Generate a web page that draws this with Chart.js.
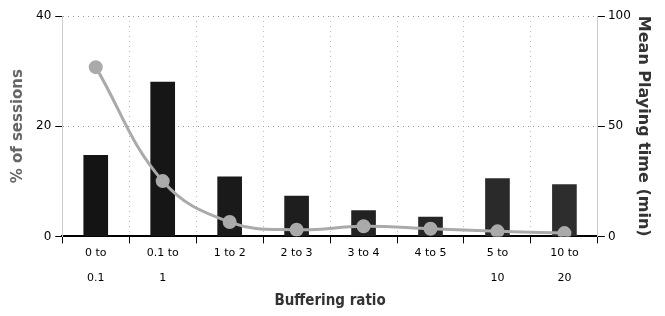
<!DOCTYPE html>
<html>
<head>
<meta charset="utf-8">
<script src="https://cdn.jsdelivr.net/npm/chart.js@4"></script>
<style>
  html, body { margin: 0; padding: 0; background: #fff; }
  #wrap { width: 665px; height: 316px; }
</style>
</head>
<body>
<div id="wrap"><canvas id="myChart" width="665" height="316"></canvas></div>
<script>
(() => {
  'use strict'

  // Data
  const categories = [
    ['0 to', '0.1'],
    ['0.1 to', '1'],
    ['1 to 2', ''],
    ['2 to 3', ''],
    ['3 to 4', ''],
    ['4 to 5', ''],
    ['5 to', '10'],
    ['10 to', '20']
  ]
  const sessionsPct = [14.7, 28.0, 10.8, 7.3, 4.7, 3.5, 10.5, 9.4]
  const meanPlayTime = [76.8, 25.1, 6.5, 3.0, 4.6, 3.5, 2.3, 1.5]
  const barColors = ['#141414', '#161616', '#1a1a1a', '#1e1e1e', '#222222', '#262626', '#2a2a2a', '#2d2d2d']
  const leftTicks = [0, 20, 40]
  const rightTicks = [0, 50, 100]

  const tickFont = { family: 'DejaVu Sans', size: 11 }

  const ctx = document.getElementById('myChart')
  // eslint-disable-next-line no-unused-vars
  const myChart = new Chart(ctx, {
    data: {
      labels: categories,
      datasets: [{
        type: 'line',
        data: meanPlayTime,
        yAxisID: 'y1',
        order: 1,
        borderColor: '#aaaaaa',
        borderWidth: 3,
        tension: 0.4,
        pointRadius: 5.5,
        pointBackgroundColor: '#aaaaaa',
        pointBorderColor: '#aaaaaa'
      }, {
        type: 'bar',
        data: sessionsPct,
        yAxisID: 'y',
        order: 2,
        backgroundColor: barColors,
        barThickness: 24
      }]
    },
    options: {
      responsive: false,
      animation: false,
      layout: { padding: { top: 16, right: 5, left: 9, bottom: 6 } },
      plugins: {
        legend: { display: false },
        tooltip: { enabled: false }
      },
      scales: {
        x: {
          offset: true,
          grid: {
            offset: true,
            color: '#bbbbbb',
            tickColor: '#000000',
            tickLength: 7,
            lineWidth: 1
          },
          border: { color: '#000000', width: 2, dash: [1, 4] },
          ticks: {
            color: '#000000',
            font: { ...tickFont, lineHeight: 2.3 },
            maxRotation: 0,
            autoSkip: false,
            padding: -3
          },
          title: {
            display: true,
            text: 'Buffering ratio',
            color: '#333333',
            font: { family: 'DejaVu Sans Condensed', size: 15, weight: 'bold' },
            padding: { top: 4, bottom: 0 }
          }
        },
        y: {
          position: 'left',
          min: 0,
          max: 40,
          afterBuildTicks: (axis) => { axis.ticks = leftTicks.map(v => ({ value: v })) },
          grid: {
            color: (c) => (c.tick && c.tick.value === 0 ? 'rgba(0,0,0,0)' : '#999999'),
            tickColor: '#000000',
            tickLength: 7
          },
          border: { color: '#cccccc', width: 1, dash: [1, 4] },
          ticks: { color: '#000000', font: { ...tickFont, size: 12 }, padding: 4 },
          title: {
            display: true,
            text: '% of sessions',
            color: '#666666',
            font: { family: 'DejaVu Sans', size: 15, weight: 'bold' },
            padding: { top: 0, bottom: 5 }
          }
        },
        y1: {
          position: 'right',
          min: 0,
          max: 100,
          afterBuildTicks: (axis) => { axis.ticks = rightTicks.map(v => ({ value: v })) },
          grid: {
            drawOnChartArea: false,
            tickColor: '#000000',
            tickLength: 7
          },
          border: { color: '#cccccc', width: 1 },
          ticks: { color: '#000000', font: { ...tickFont, size: 12 }, padding: 3 },
          title: {
            display: true,
            text: 'Mean Playing time (min)',
            color: '#333333',
            font: { family: 'DejaVu Sans', size: 16, weight: 'bold' },
            padding: { top: 7, bottom: 0 }
          }
        }
      }
    }
  })
})()
</script>
</body>
</html>
